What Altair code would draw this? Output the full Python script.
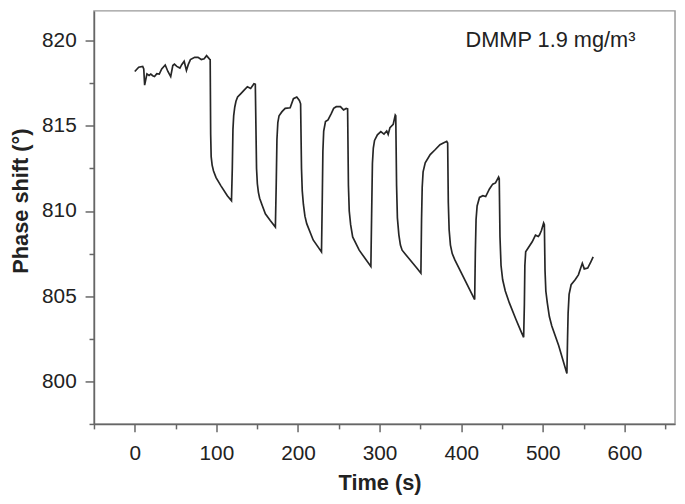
import altair as alt
import pandas as pd

# Time (s) and phase shift (deg)
time_s = [0, 4.8, 9.7, 11, 12.1, 14.9, 17.5, 19.6, 22, 24.2, 27, 30, 33, 37.3, 40.6, 44, 46.6, 48.6,
          51.5, 55.3, 57.5, 60.5, 63.3, 65.5, 68.2, 73.4, 77.5, 81.5, 85, 88, 91.6, 92.4,
          93.0, 93.6, 94.8, 96.5, 99.6, 105.6, 113.4, 118.5,
          119.5, 120.3, 121.2, 122.5, 124, 126, 130, 134, 138, 142, 146, 147.7,
          149.2, 150.2, 151.5, 153, 156.2, 160, 166, 172.3,
          173.3, 174.2, 175.3, 176.8, 180.4, 184.3, 190.4, 194.4, 198.5, 201.7, 203.2,
          204.3, 205.2, 206.6, 208.5, 210.7, 218.6, 228.8,
          229.7, 230.5, 231.5, 233.7, 236.8, 240.9, 243.7, 246.9, 252, 255.8, 259, 260.8,
          261.8, 262.8, 264.5, 267, 275, 289.3,
          290.3, 291.2, 292.3, 293.8, 297.3, 301.5, 305.4, 308.7, 310.5, 312.7, 316.7, 319.2, 319.8,
          320.8, 321.8, 323.6, 325.5, 327.6, 335.7, 345.8, 350.6,
          351.4, 352.2, 353.3, 355.9, 362, 368, 374, 382.2, 383.4,
          384.2, 385.2, 386.8, 389, 392.2, 400.3, 408.4, 416.5,
          417.3, 418.2, 419.5, 422.4, 426.5, 430, 434.6, 438.6, 442, 445.8, 446.6,
          447.5, 448.8, 450.8, 454, 459, 467, 473, 476.5,
          477.4, 478, 479, 483, 487, 491, 494.5, 496, 498.4, 501, 501.9,
          502.7, 503.7, 505.5, 508, 511, 519.4, 529.5,
          530.3, 531, 532.2, 534.7, 539.6, 543.6, 548.4, 550.8, 555, 559, 561.7]

phase_deg = [818.2, 818.45, 818.5, 818.35, 817.4, 818.06, 817.97, 818.05, 817.95, 817.9, 818.07, 818.05, 818.35, 818.58, 818.2, 817.9, 818.55, 818.63,
             818.5, 818.4, 818.6, 818.8, 818.26, 818.6, 818.9, 819.03, 819.03, 818.9, 818.95, 819.13, 818.93, 818.9,
             814.5, 813.2, 812.7, 812.35, 811.96, 811.48, 810.9, 810.6,
             812.5, 814.8, 815.6, 816.1, 816.45, 816.7, 816.9, 817.1, 817.3, 817.2, 817.48, 817.45,
             812.5, 811.6, 811.1, 810.75, 810.32, 809.84, 809.45, 809.06,
             811.5, 814.2, 815.2, 815.6, 815.84, 816.03, 816.07, 816.6, 816.7, 816.5, 816.3,
             812.5, 811.2, 810.4, 809.7, 809.26, 808.3, 807.6,
             810.5, 813.5, 814.7, 815.26, 815.35, 815.74, 816.03, 816.13, 816.13, 815.94, 816.03, 816.0,
             811.5, 810.0, 809.2, 808.48, 807.7, 806.74,
             810.0, 812.8, 813.7, 814.15, 814.48, 814.67, 814.52, 814.7, 814.5, 814.9, 815.1, 815.64, 815.6,
             811.5, 809.6, 808.6, 808.0, 807.7, 807.22, 806.64, 806.35,
             809.5, 811.4, 812.3, 812.83, 813.32, 813.6, 813.9, 814.1, 814.0,
             810.5, 808.9, 808.0, 807.5, 807.13, 806.35, 805.57, 804.8,
             807.5, 809.5, 810.3, 810.8, 810.9, 810.85, 811.3, 811.58, 811.65, 812.0, 811.9,
             808.5, 806.8, 805.96, 805.3, 804.6, 803.64, 802.96, 802.58,
             804.5, 806.8, 807.6, 807.9, 808.19, 808.58, 808.5, 808.6, 808.87, 809.3, 809.2,
             806.5, 805.3, 804.6, 803.8, 803.25, 802.1, 800.45,
             802.5, 804.0, 805.1, 805.67, 805.96, 806.25, 806.93, 806.6, 806.65, 807.03, 807.3]

x_tick_values = [-50, 0, 50, 100, 150, 200, 250, 300, 350, 400, 450, 500, 550, 600, 650]
y_tick_values = [797.5, 800, 802.5, 805, 807.5, 810, 812.5, 815, 817.5, 820]
annotation = ["DMMP 1.9 mg/m³"]

df = pd.DataFrame({"t": time_s, "v": phase_deg})

FONT = "Liberation Sans"

x_axis = alt.Axis(
    values=x_tick_values,
    labelExpr="datum.value % 100 === 0 ? datum.label : ''",
    tickSize={"condition": {"test": "datum.value % 100 === 0", "value": 8}, "value": 5},
    labelFontSize=21, labelFont=FONT, labelColor="#222", labelPadding=11,
    labelFlush=False, labelOverlap=False, grid=False,
    domainColor="#666", domainWidth=1.5, tickColor="#666", tickWidth=1.5,
    title="Time (s)", titleFont=FONT, titleFontSize=22, titleFontWeight="bold",
    titleColor="#222", titleX=289, titleY=49, titleBaseline="top", titleAlign="center",
)

y_axis = alt.Axis(
    values=y_tick_values,
    labelExpr="datum.value % 5 === 0 ? datum.label : ''",
    tickSize={"condition": {"test": "datum.value % 5 === 0", "value": 9}, "value": 5},
    labelFontSize=21, labelFont=FONT, labelColor="#222", labelPadding=9,
    labelFlush=False, labelOverlap=False, grid=False,
    domainColor="#666", domainWidth=1.5, tickColor="#666", tickWidth=1.5,
    title="Phase shift (°)", titleFont=FONT, titleFontSize=22, titleFontWeight="bold",
    titleColor="#222", titleX=-62, titleY=192, titleBaseline="bottom", titleAlign="center",
    titleAngle=270,
)

line = alt.Chart(df).mark_line(color="#262626", strokeWidth=1.7).encode(
    x=alt.X("t:Q", scale=alt.Scale(domain=[-50, 662], nice=False, zero=False), axis=x_axis),
    y=alt.Y("v:Q", scale=alt.Scale(domain=[797.49, 821.76], nice=False, zero=False), axis=y_axis),
)

label = alt.Chart(pd.DataFrame({"text": annotation})).mark_text(
    align="left", baseline="alphabetic", fontSize=22, font=FONT, color="#222"
).encode(text="text:N", x=alt.value(376), y=alt.value(37))

chart = alt.layer(line, label).properties(
    width=588, height=418,
    autosize=alt.AutoSizeParams(type="none"),
    padding={"left": 87, "top": 0, "right": 2, "bottom": 70},
).configure_view(stroke="#999", strokeWidth=1.5)

chart.save("out.html", embed_options={"renderer": "svg", "actions": False})
